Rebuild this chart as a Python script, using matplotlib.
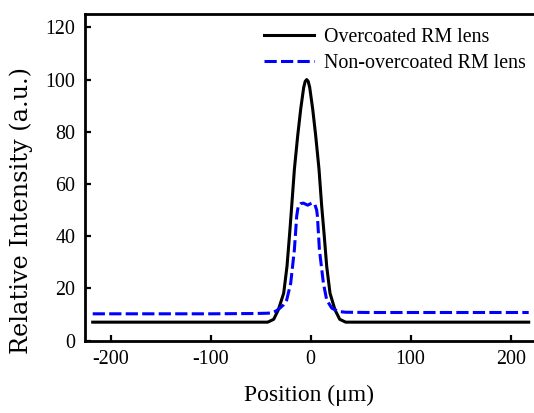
import matplotlib
matplotlib.use("Agg")
import matplotlib.pyplot as plt

plt.rcParams['font.family'] = ['Liberation Serif', 'DejaVu Serif']
plt.rcParams['axes.unicode_minus'] = False

# Overcoated RM lens (black solid)
x_over = [-218, -100, -50, -43, -37, -32.4, -27, -23.7, -21, -19, -16.3, -13, -10, -7, -5.5, -4,
          -2.5, -1, 2, 5, 8.3, 11, 13.3, 16, 19.3, 24.3, 29, 35, 60, 120, 218]
y_over = [7.1, 7.1, 7.1, 7.1, 8.2, 11.8, 18.2, 28.5, 41.3, 51.5, 65.7, 78.5, 88.7, 97, 99.3, 100,
          99.3, 97, 88.7, 78.5, 65.7, 51.5, 41.3, 28.5, 18.2, 11.8, 8.2, 7.1, 7.1, 7.1, 7.1]

# Non-overcoated RM lens (blue dashed)
x_non = [-218, -100, -60, -45, -40, -35, -30.7, -27, -24, -20, -16.3, -14, -12.5, -10, -7.4,
         -3, 1, 4, 6, 6.7, 8.7, 12.7, 16, 21, 27.7, 35, 60, 120, 218]
y_non = [10.3, 10.3, 10.4, 10.5, 10.6, 11.3, 12.5, 13.8, 15.6, 22, 34.9, 47.7, 51.5, 52.5, 52.7,
         51.9, 52.7, 52.3, 50, 47.7, 34.9, 22, 15.6, 12.5, 11.2, 10.9, 10.8, 10.8, 10.8]

x_ticks = [-200, -100, 0, 100, 200]
y_ticks = [0, 20, 40, 60, 80, 100, 120]

fig = plt.figure(figsize=(5.34, 4.13), dpi=100)
ax = fig.add_axes([85/534, 72.3/413, 449/534, 326.4/413])

ax.plot(x_over, y_over, color='black', lw=2.2, label='Overcoated RM lens')
ax.plot(x_non, y_non, color='#0000ff', lw=2.2, dashes=(4, 1.4), label='Non-overcoated RM lens')

ax.set_xlim(-225.7, 223.3)
ax.set_ylim(0, 125)
ax.set_xticks(x_ticks)
ax.set_yticks(y_ticks)
ax.tick_params(direction='in', length=4, width=1.6, labelsize=14.4, pad=7)
for side in ['left', 'bottom', 'top']:
    ax.spines[side].set_linewidth(2)
ax.spines['right'].set_visible(False)

ax.set_xlabel('Position (μm)', fontsize=17, labelpad=11)
ax.set_ylabel('Relative Intensity (a.u.)', fontsize=17.3, family=['DejaVu Serif'])
ax.yaxis.set_label_coords(-0.1158, 0.40)

leg = ax.legend(loc='upper right', frameon=False, fontsize=14.4, handlelength=2.5,
                handletextpad=0.5, labelspacing=0.35, borderaxespad=0.3,
                bbox_to_anchor=(1.013, 1.0))

fig.savefig('out.png', dpi=100)
